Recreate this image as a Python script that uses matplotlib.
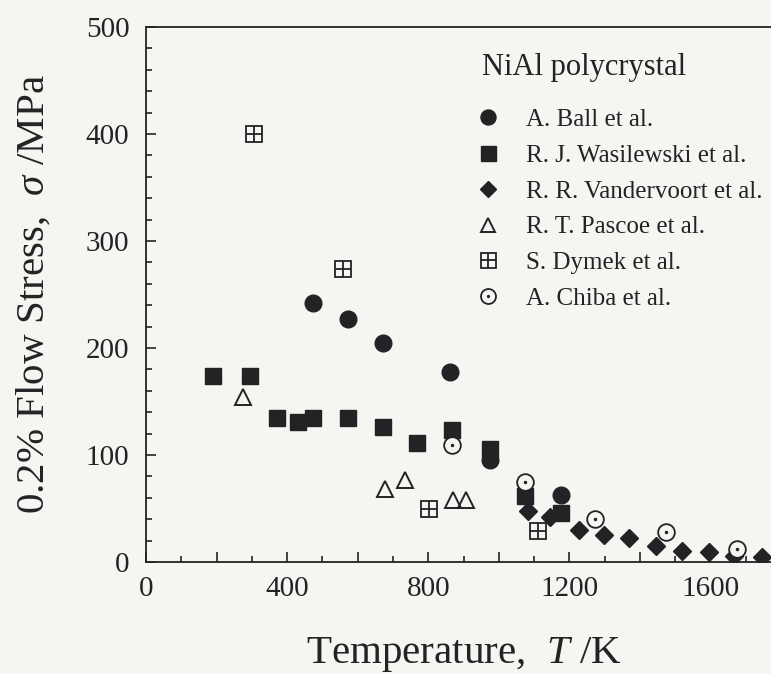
import numpy as np
import matplotlib.pyplot as plt
from matplotlib.legend_handler import HandlerTuple

plt.rcParams['font.family'] = ['Liberation Serif', 'DejaVu Serif']
plt.rcParams['mathtext.fontset'] = 'custom'
plt.rcParams['mathtext.it'] = 'Liberation Serif:italic'
plt.rcParams['mathtext.rm'] = 'Liberation Serif'

# temperature (K) and 0.2% flow stress (MPa) for each source
ball_T = [474, 573, 672, 861, 975, 1176]
ball_s = [242, 227, 205, 178, 95, 63]

wasil_T = [191, 295, 371, 430, 474, 573, 672, 769, 866, 975, 1073, 1176]
wasil_s = [174, 174, 135, 131, 135, 135, 126, 111, 123, 106, 62, 46]

vander_T = [1082, 1144, 1226, 1299, 1369, 1447, 1520, 1595, 1666, 1746]
vander_s = [48, 42, 30, 25, 22, 15, 10, 9, 6, 5]

pascoe_T = [276, 677, 734, 870, 908]
pascoe_s = [154, 68, 77, 58, 58]

dymek_T = [307, 559, 802, 1110]
dymek_s = [400, 274, 50, 29]

chiba_T = [866, 1073, 1273, 1473, 1675]
chiba_s = [109, 75, 40, 28, 12]

labels = ["A. Ball et al.", "R. J. Wasilewski et al.", "R. R. Vandervoort et al.",
          "R. T. Pascoe et al.", "S. Dymek et al.", "A. Chiba et al."]

ink = '#232225'
bg = '#f7f5f2'

fig = plt.figure(figsize=(7.71, 6.74), dpi=100, facecolor=bg)
ax = fig.add_axes([146 / 771, 112 / 674, 635 / 771, 535 / 674], facecolor=bg)

h_ball, = ax.plot(ball_T, ball_s, 'o', ms=12, color=ink, ls='none')
h_wasil, = ax.plot(wasil_T, wasil_s, 's', ms=12, color=ink, ls='none')
h_vander, = ax.plot(vander_T, vander_s, 'D', ms=9.5, color=ink, ls='none')
h_pascoe, = ax.plot(pascoe_T, pascoe_s, '^', ms=11, mfc='none', mec=ink, mew=1.4, ls='none')
h_dym1, = ax.plot(dymek_T, dymek_s, 's', ms=12, mfc=bg, mec=ink, mew=1.3, ls='none')
h_dym2, = ax.plot(dymek_T, dymek_s, '+', ms=12, mec=ink, mew=1.3, ls='none')
h_chi1, = ax.plot(chiba_T, chiba_s, 'o', ms=12, mfc=bg, mec=ink, mew=1.3, ls='none')
h_chi2, = ax.plot(chiba_T, chiba_s, '.', ms=3, color=ink, ls='none')

ax.set_xlim(0, 1800)
ax.set_ylim(0, 500)
ax.set_xticks(np.arange(0, 1801, 200))
ax.set_xticklabels([str(v) if v % 400 == 0 else '' for v in range(0, 1801, 200)])
ax.set_xticks(np.arange(0, 1801, 100), minor=True)
ax.set_yticks(np.arange(0, 501, 100))
ax.set_yticks(np.arange(0, 501, 20), minor=True)
ax.tick_params(which='both', direction='in', colors=ink, labelsize=21, width=1.2)
ax.tick_params(which='major', length=7)
ax.tick_params(which='minor', length=4)
ax.tick_params(axis='y', pad=12)
ax.tick_params(axis='x', pad=10)
for sp in ax.spines.values():
    sp.set_color(ink)
    sp.set_linewidth(1.3)

ax.set_xlabel('Temperature,  $T$ /K', fontsize=29.5, color=ink, labelpad=24)
ax.set_ylabel('0.2% Flow Stress,  $\\sigma$ /MPa', fontsize=29.5, color=ink, labelpad=24)

fig.text(482 / 771, 1 - 68 / 674, 'NiAl polycrystal', fontsize=22, color=ink,
         ha='left', va='center')
leg = ax.legend([h_ball, h_wasil, h_vander, h_pascoe, (h_dym1, h_dym2), (h_chi1, h_chi2)],
                labels, handler_map={tuple: HandlerTuple(ndivide=1)},
                fontsize=18, frameon=False, loc='upper left',
                bbox_to_anchor=(463 / 771, 1 - 96 / 674), bbox_transform=fig.transFigure,
                handlelength=1.0, handletextpad=1.0, labelspacing=0.53,
                borderpad=0, markerscale=0.9)
for t in leg.get_texts():
    t.set_color(ink)

fig.savefig('out.png', dpi=100, facecolor=bg)
